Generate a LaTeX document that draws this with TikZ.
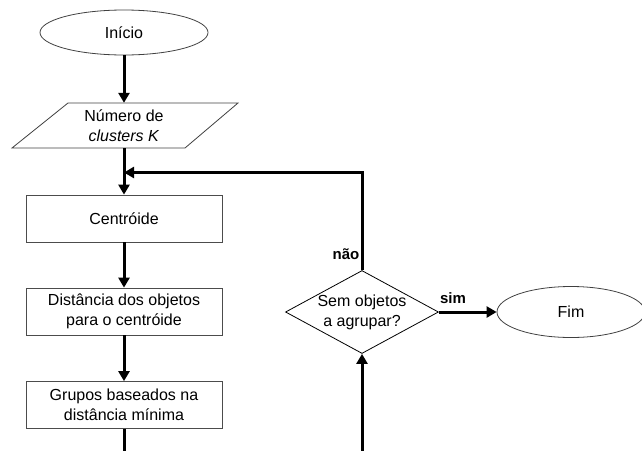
\documentclass[tikz,border=0pt]{standalone}
\usepackage{fontspec}
\setmainfont{Liberation Sans}
\usetikzlibrary{shapes.geometric,arrows.meta,calc}
\begin{document}
\begin{tikzpicture}[x=1pt,y=-1pt,
  every node/.style={font=\fontsize{16}{20}\selectfont},
  term/.style={ellipse,draw=black!75,line width=0.8pt,minimum width=168pt,minimum height=45pt,inner sep=0pt},
  procbox/.style={rectangle,draw=black!70,line width=0.8pt,minimum width=196pt,minimum height=47pt,align=center,inner sep=0pt},
  decision/.style={diamond,draw=black,line width=0.8pt,minimum width=153pt,minimum height=83pt,inner sep=0pt},
  flow/.style={line width=3pt,-{Triangle[width=11pt,length=10pt]}},
  plainflow/.style={line width=3pt},
  lbl/.style={font=\bfseries\fontsize{15}{18}\selectfont,inner sep=0pt}
]
\useasboundingbox (0,0) rectangle (642,450);

\node[term] (ini) at (124,32.5) {Início};
\node[inner sep=0pt,minimum width=170pt,minimum height=45pt,align=center] (num) at (124,125.5) {Número de\\\textit{clusters K}};
\draw[line width=0.8pt,draw=black!75] (68,103) -- (238,103) -- (185,148) -- (12,148) -- cycle;
\node[procbox] (cen) at (124,218.5) {Centróide};
\node[procbox] (dist) at (124,311.5) {Distância dos objetos\\para o centróide};
\node[procbox] (grp) at (124,405) {Grupos baseados na\\distância mínima};
\node[decision] (dec) at (362,312) {};
\node[align=center] (dectxt) at (dec.center) {Sem objetos\\a agrupar?};
\node[term,minimum width=148pt,minimum height=51pt] (fim) at (571,312) {Fim};

\coordinate (grpout) at (124,460);
\coordinate (decin) at (362,460);
\coordinate (loopc) at (362,172.5);
\coordinate (join) at (124,172.5);

\draw[flow] (ini) -- (num);
\draw[flow] (num) -- (cen);
\draw[flow] (dec.north) -- (loopc) -- (join);
\draw[flow] (cen) -- (dist);
\draw[flow] (dist) -- (grp);
\draw[plainflow] (grp) -- (grpout);
\draw[flow] (decin) -- (dec.south);
\draw[flow] (dec.east) -- (fim.west);

\node[lbl,anchor=east] (nao) at (359.5,254) {não};
\node[lbl] (sim) at (453,298.5) {sim};
\end{tikzpicture}
\end{document}
